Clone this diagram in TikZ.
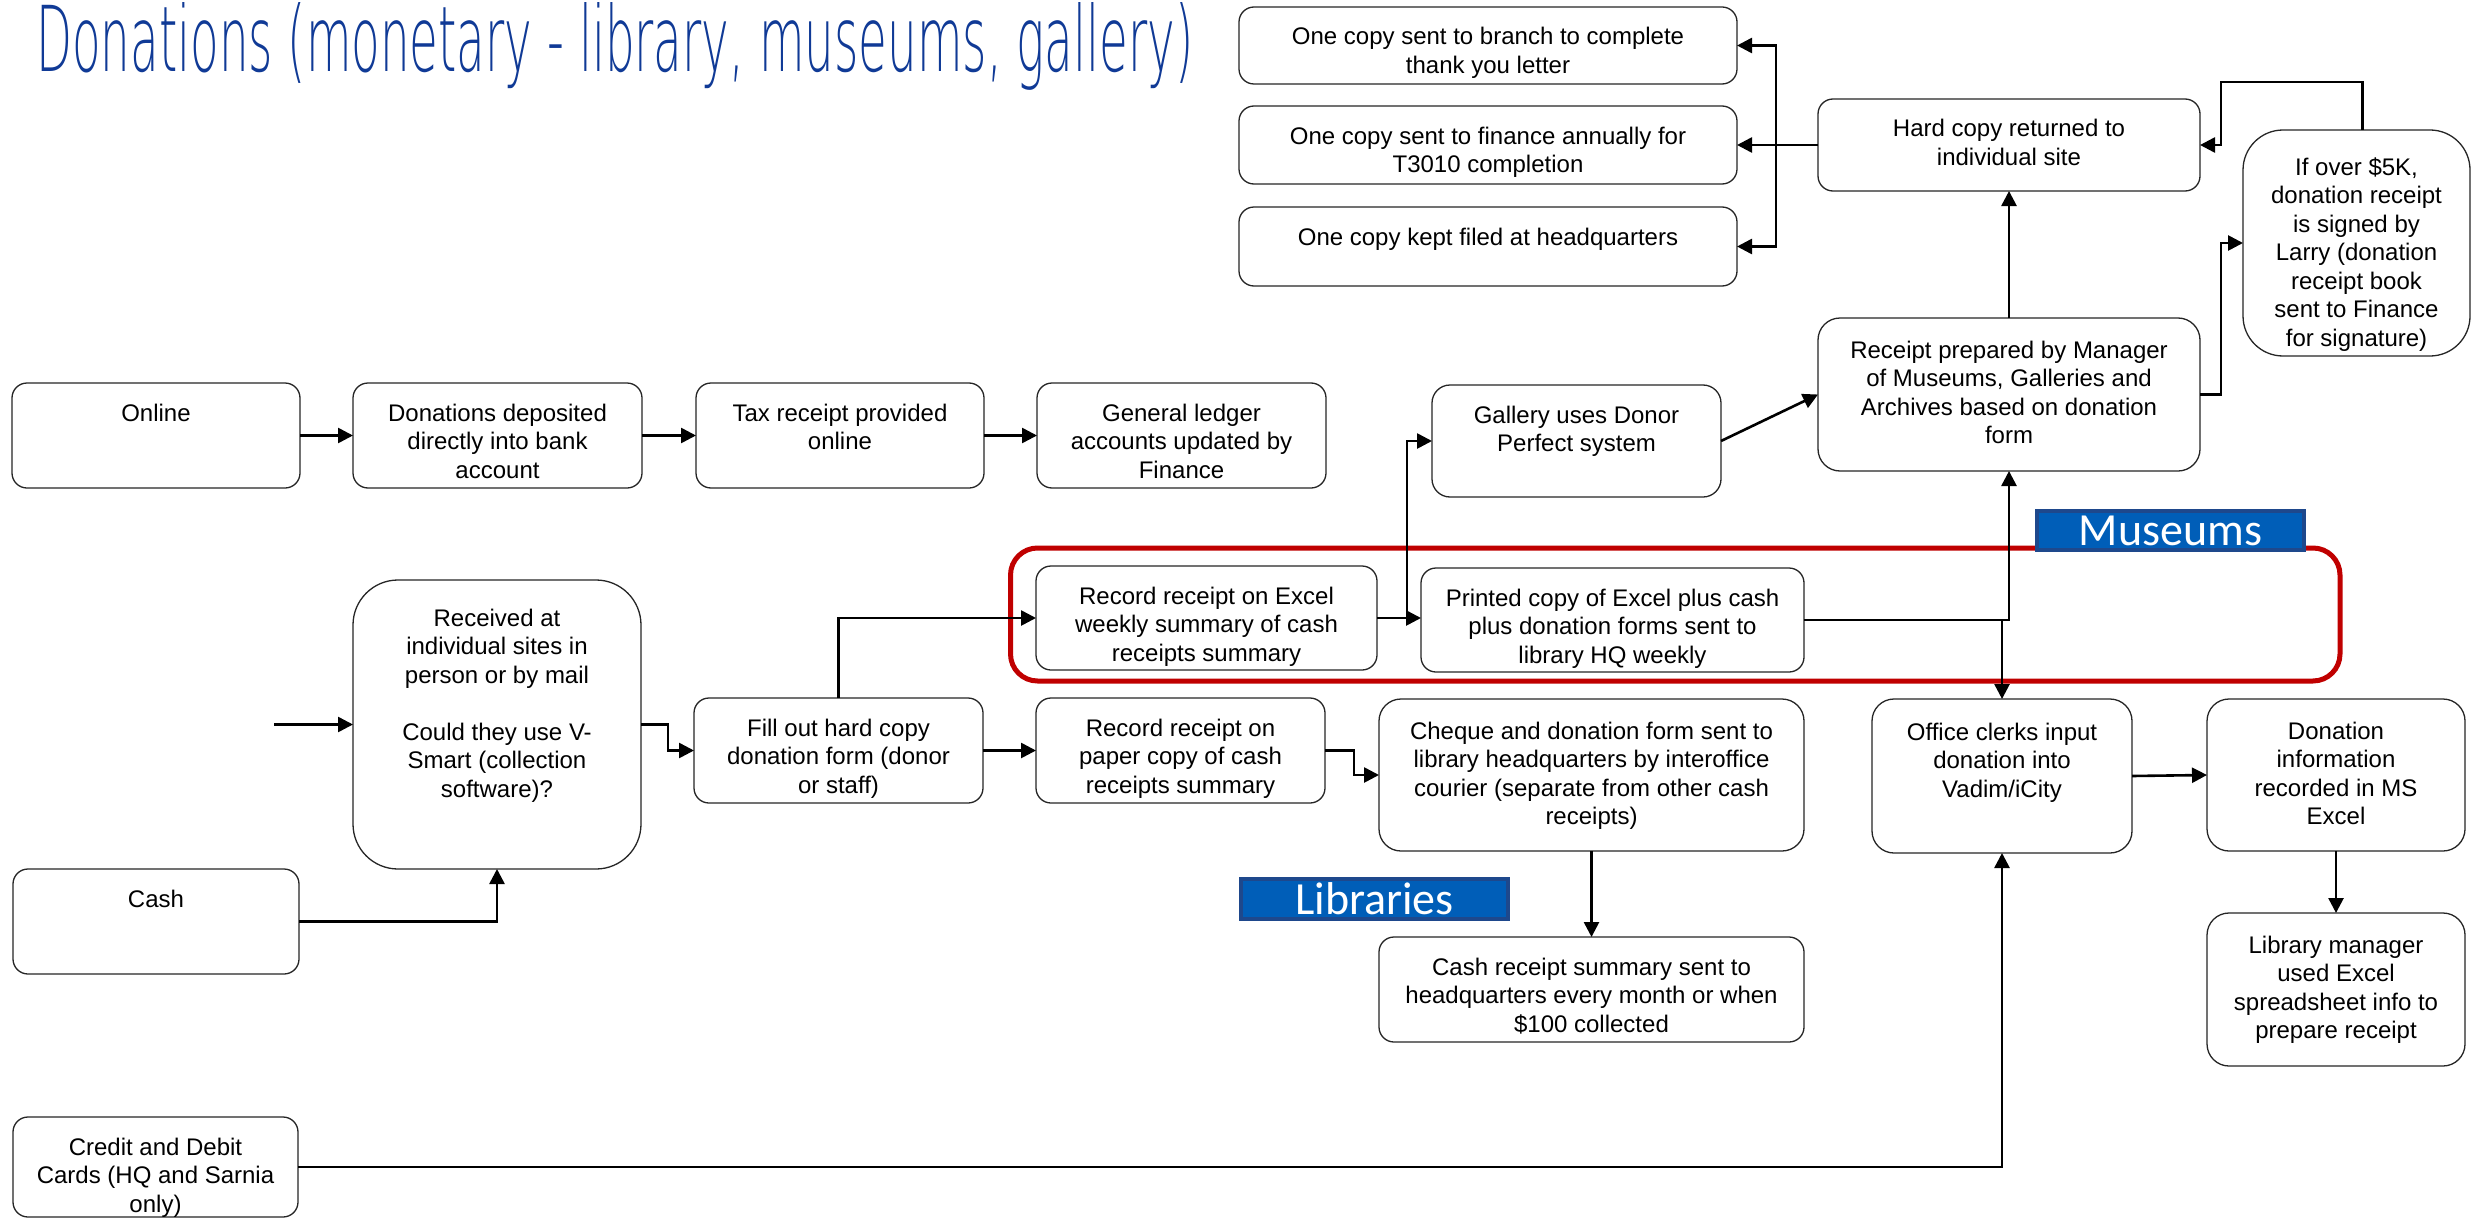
\documentclass[tikz,border=0pt]{standalone}
\usepackage{fontspec}
\usepackage{graphicx}
\setmainfont{Liberation Sans}
\newfontfamily\labelfont{Carlito}
\IfFontExistsTF{DejaVu Sans ExtraLight}
  {\newfontfamily\titlefont{DejaVu Sans ExtraLight}}
  {\newfontfamily\titlefont{Liberation Sans}}
\usetikzlibrary{arrows.meta}

\definecolor{titleblue}{RGB}{16,58,150}
\definecolor{framered}{RGB}{192,0,0}
\definecolor{tagfill}{RGB}{0,94,184}
\definecolor{tagedge}{RGB}{30,72,140}

% Rounded process box given by its corners (x1,y1)-(x2,y2);
% the text block hangs from the top, its first baseline #1 below the top edge.
% [#1 first baseline]{#2 name}{#3 extra style}{#4 x1}{#5 y1}{#6 x2}{#7 y2}{#8 lines}
\newcommand\flowbox[8][38]{%
  \pgfmathsetmacro\bw{#6-#4}%
  \pgfmathsetmacro\bh{#7-#5}%
  \node[box,#3,anchor=north west] (#2) at (#4,#5)
    {\begin{minipage}[c][\bh pt][t]{\bw pt}%
       \makebox[\bw pt][c]{\rule{0pt}{#1pt}\begin{tabular}[t]{@{}c@{}}#8\end{tabular}}%
     \end{minipage}};%
}

\tikzset{
  box/.style={draw=black!85, line width=1.3pt, rounded corners=15pt,
    fill=white, inner sep=0pt, outer sep=0pt},
  conn/.style={line width=2.6pt, -{Triangle[length=15pt,width=15pt]}},
  tag/.style={fill=tagfill, draw=tagedge, line width=4pt, text=white,
    font=\labelfont\fontsize{46}{50}\selectfont, inner sep=0pt, anchor=north west},
}

\begin{document}
\begin{tikzpicture}[x=1pt, y=-1pt, font=\fontsize{24}{28.5}\selectfont]
\fill[white] (0,0) rectangle (2473,1220);
\useasboundingbox (0,0) rectangle (2473,1220);

% heading (narrow and light)
\node[anchor=base west, inner sep=0pt, text=titleblue] (title) at (36,72)
  {\resizebox{1157pt}{69pt}{\titlefont Donations (monetary - library, museums, gallery)}};

% museums group frame
\draw[framered, line width=5pt, rounded corners=27pt] (1010.5,548) rectangle (2340,681);

% copies of the receipt
\flowbox{b1}{}{1239}{7}{1737}{84}{One copy sent to branch to complete\\thank you letter}
\flowbox{b2}{}{1239}{106}{1737}{184}{One copy sent to finance annually for\\T3010 completion}
\flowbox{b3}{}{1239}{207}{1737}{286}{One copy kept filed at headquarters}
\flowbox{hard}{}{1818}{99}{2200}{191}{Hard copy returned to\\individual site}
\flowbox[45]{over}{rounded corners=40pt}{2243}{130}{2470}{356}{If over \$5K,\\donation receipt\\is signed by\\Larry (donation\\receipt book\\sent to Finance\\for signature)}
\flowbox[40]{prep}{rounded corners=22pt}{1818}{318}{2200}{471}{Receipt prepared by Manager\\of Museums, Galleries and\\Archives based on donation\\form}
\flowbox{gallery}{rounded corners=18pt}{1432}{385}{1721}{497}{Gallery uses Donor\\Perfect system}

% online row
\flowbox{online}{}{12}{383}{300}{488}{Online}
\flowbox{deposit}{}{353}{383}{642}{488}{Donations deposited\\directly into bank\\account}
\flowbox{tax}{}{696}{383}{984}{488}{Tax receipt provided\\online}
\flowbox{ledger}{}{1037}{383}{1326}{488}{General ledger\\accounts updated by\\Finance}

% in person / mail
\flowbox[46]{received}{rounded corners=45pt}{353}{580}{641}{869}{Received at\\individual sites in\\person or by mail\\ \\Could they use V-\\Smart (collection\\software)?}
\flowbox{fill}{}{694}{698}{983}{803}{Fill out hard copy\\donation form (donor\\or staff)}
\flowbox{excel}{}{1036}{566}{1377}{670}{Record receipt on Excel\\weekly summary of cash\\receipts summary}
\flowbox{printed}{}{1421}{568}{1804}{672}{Printed copy of Excel plus cash\\plus donation forms sent to\\library HQ weekly}
\flowbox{paper}{}{1036}{698}{1325}{803}{Record receipt on\\paper copy of cash\\receipts summary}
\flowbox[40]{cheque}{rounded corners=22pt}{1379}{699}{1804}{851}{Cheque and donation form sent to\\library headquarters by interoffice\\courier (separate from other cash\\receipts)}
\flowbox{cashsum}{}{1379}{937}{1804}{1042}{Cash receipt summary sent to\\headquarters every month or when\\\$100 collected}
\flowbox[41]{office}{rounded corners=22pt}{1872}{699}{2132}{853}{Office clerks input\\donation into\\Vadim/iCity}
\flowbox[40]{dinfo}{rounded corners=22pt}{2207}{699}{2465}{851}{Donation\\information\\recorded in MS\\Excel}
\flowbox[40]{libmgr}{rounded corners=22pt}{2207}{913}{2465}{1066}{Library manager\\used Excel\\spreadsheet info to\\prepare receipt}

% cash and cards
\flowbox{cash}{}{13}{869}{299}{974}{Cash}
\flowbox{credit}{}{13}{1117}{298}{1217}{Credit and Debit\\Cards (HQ and Sarnia\\only)}

% group tags
\node[tag, minimum width=267pt, minimum height=39pt] (museums) at (2035,509) {Museums};
\node[tag, minimum width=267pt, minimum height=40pt] (libraries) at (1239,877) {Libraries};

% free ends and branch points
\coordinate (inmail) at (274,724.5);
\coordinate (gsplit) at (1407,618);

% connectors
\draw[conn] (online.east) -- (deposit.west);
\draw[conn] (deposit.east) -- (tax.west);
\draw[conn] (tax.east) -- (ledger.west);

\draw[conn] (inmail) -- (received.west);
\draw[conn] (received.east) -- ++(27,0) |- (fill.west);
\draw[conn] (cash.east) -| (received.south);
\draw[conn] (fill.east) -- (paper.west);
\draw[conn] (fill.north) |- (excel.west);
\draw[conn] (excel.east) -- (excel.east -| printed.west);
\draw[conn] (gsplit) |- (gallery.west);
\draw[conn] (gallery.east) -- (prep.west);
\draw[conn] (printed.east) -| (prep.south);
\draw[conn] (printed.east -| office.north) -- (office.north);
\draw[conn] (prep.north) -- (hard.south);
\draw[conn] (prep.east) -- ++(21,0) |- (over.west);
\draw[conn] ([xshift=6pt]over.north) -- ++(0,-48) -| ([xshift=21pt]hard.east) -- (hard.east);
\draw[conn] (hard.west) -- (b2.east);
\draw[conn] ([xshift=-42pt]hard.west) |- (b1.east);
\draw[conn] ([xshift=-42pt]hard.west) |- (b3.east);

\draw[conn] (paper.east) -- ++(29,0) |- (cheque.west);
\draw[conn] (cheque.south) -- (cashsum.north);
\draw[conn] (credit.east) -| (office.south);
\draw[conn] (office.east) -- (dinfo.west);
\draw[conn] (dinfo.south) -- (libmgr.north);
\end{tikzpicture}
\end{document}
